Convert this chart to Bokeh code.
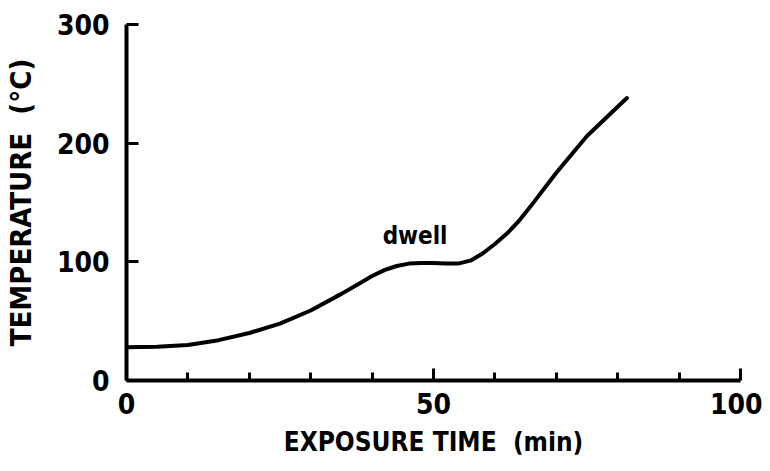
from bokeh.plotting import figure
from bokeh.models import FixedTicker, Label
from bokeh.embed import file_html
from bokeh.resources import INLINE

time_min = [0, 5, 10, 15, 20, 25, 30, 35, 38, 40, 42, 44, 46, 48, 50, 52, 54, 56, 58, 60, 62, 64, 66, 70, 75, 81.5]
temp_c = [28, 28.5, 30, 34, 40, 48, 59, 73, 82, 88, 93, 96.5, 98.5, 99, 99, 98.5, 98.5, 101, 107, 115, 124, 135, 148, 175, 206, 238]

x_ticks = [0, 50, 100]
x_minor = [10, 20, 30, 40, 60, 70, 80, 90]
y_ticks = [0, 100, 200, 300]

FONT = "'DejaVu Sans Condensed', 'Liberation Sans Narrow', 'Liberation Sans', sans-serif"

p = figure(width=762, height=463, x_range=(0, 100), y_range=(0, 300),
           output_backend="svg", toolbar_location=None,
           min_border_left=126, min_border_right=22, min_border_top=24, min_border_bottom=83)
p.outline_line_color = None
p.grid.visible = False
p.background_fill_color = "white"

p.line(time_min, temp_c, line_width=4, line_color="black", line_cap="round", line_join="round")

p.add_layout(Label(x=47, y=110, text="dwell", text_align="center", text_font=FONT,
                   text_font_style="bold", text_font_size="24px", text_color="black"))

for ax in (p.xaxis[0], p.yaxis[0]):
    ax.axis_line_width = 4
    ax.axis_line_color = "black"
    ax.major_tick_line_width = 3
    ax.minor_tick_line_width = 3
    ax.major_tick_line_color = "black"
    ax.minor_tick_line_color = "black"
    ax.major_tick_out = 0
    ax.minor_tick_out = 0
    ax.major_label_text_font = FONT
    ax.major_label_text_font_style = "bold"
    ax.major_label_text_font_size = "28px"
    ax.major_label_text_color = "black"
    ax.axis_label_text_font = FONT
    ax.axis_label_text_font_style = "bold"
    ax.axis_label_text_font_size = "29px"
    ax.axis_label_text_color = "black"

p.xaxis.ticker = FixedTicker(ticks=x_ticks, minor_ticks=x_minor)
p.xaxis.major_tick_in = 12
p.xaxis.minor_tick_in = 8
p.xaxis.major_label_standoff = 12
p.xaxis.axis_label = "EXPOSURE TIME \u00a0(min)"
p.xaxis.axis_label_text_font_size = "26px"
p.xaxis.axis_label_standoff = 10

p.yaxis.ticker = FixedTicker(ticks=y_ticks, minor_ticks=[])
p.yaxis.major_tick_in = 12
p.yaxis.minor_tick_in = 0
p.yaxis.major_label_standoff = 17
p.yaxis.axis_label = "TEMPERATURE \u00a0(°C)"
p.yaxis.axis_label_standoff = 16

open("out.html", "w").write(file_html(p, INLINE))
